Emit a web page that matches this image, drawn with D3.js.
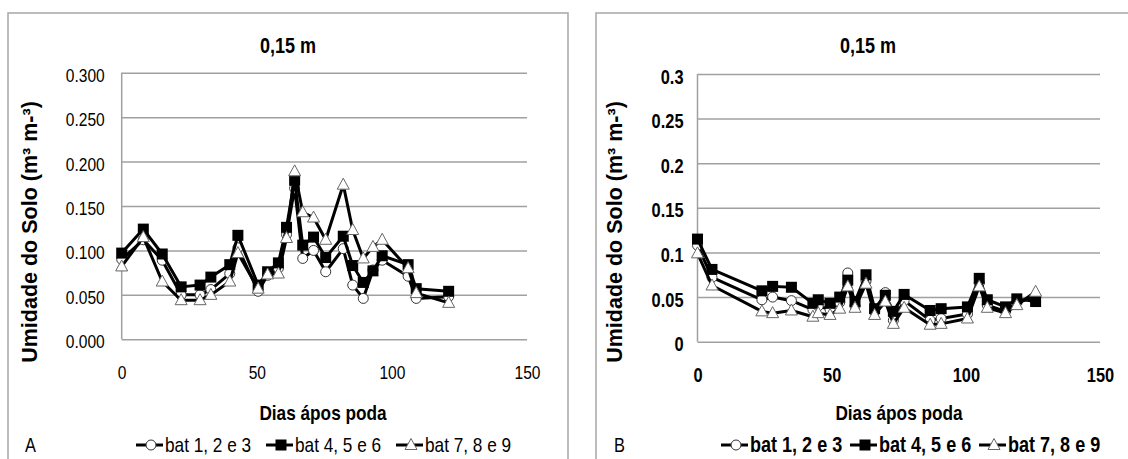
<!DOCTYPE html>
<html>
<head>
<meta charset="utf-8">
<script src="https://cdn.jsdelivr.net/npm/d3@7"></script>
<style>
  body { margin: 0; background: #fff; }
  svg { display: block; font-family: "Liberation Sans", Arial, sans-serif; }
</style>
</head>
<body>
<svg id="chart" width="1128" height="459"></svg>
<script>
// panel A
var daysA = [0, 8, 15, 22, 29, 33, 40, 43, 50.5, 54, 58, 61, 64, 67, 71, 75.5, 82, 85.5, 89.4, 93, 96.4, 106, 109, 121];
var bat123A = [0.090, 0.112, 0.089, 0.050, 0.050, 0.056, 0.074, 0.103, 0.054, 0.072, 0.080, 0.118, 0.170, 0.091, 0.100, 0.076, 0.102, 0.061, 0.046, 0.078, 0.089, 0.071, 0.046, 0.048];
var bat456A = [0.097, 0.124, 0.096, 0.059, 0.061, 0.070, 0.084, 0.117, 0.061, 0.076, 0.086, 0.126, 0.179, 0.106, 0.115, 0.092, 0.116, 0.083, 0.064, 0.077, 0.094, 0.084, 0.057, 0.054];
var bat789A = [0.082, 0.115, 0.065, 0.044, 0.044, 0.050, 0.065, 0.097, 0.057, 0.073, 0.074, 0.114, 0.189, 0.143, 0.137, 0.112, 0.174, 0.123, 0.091, 0.104, 0.112, 0.080, 0.052, 0.041];

// panel B
var daysB = [0, 5.4, 24, 28, 35, 43, 45, 49.4, 53, 56, 58.7, 62.8, 66, 70, 73, 77, 86.7, 90.8, 100.6, 105, 108, 114.8, 119, 126];
var bat123B = [0.108, 0.072, 0.047, 0.050, 0.046, 0.036, 0.040, 0.036, 0.044, 0.077, 0.040, 0.068, 0.034, 0.055, 0.024, 0.046, 0.024, 0.026, 0.031, 0.066, 0.041, 0.034, 0.044, 0.050];
var bat456B = [0.115, 0.081, 0.057, 0.062, 0.061, 0.043, 0.047, 0.043, 0.050, 0.069, 0.045, 0.075, 0.037, 0.052, 0.034, 0.053, 0.035, 0.037, 0.039, 0.071, 0.047, 0.039, 0.048, 0.045];
var bat789B = [0.099, 0.063, 0.034, 0.032, 0.035, 0.028, 0.032, 0.030, 0.037, 0.062, 0.038, 0.065, 0.030, 0.045, 0.020, 0.038, 0.019, 0.020, 0.026, 0.062, 0.038, 0.032, 0.041, 0.056];

var seriesNames = ["bat 1, 2 e 3", "bat 4, 5 e 6", "bat 7, 8 e 9"];
var seriesMarkers = ["circle", "square", "triangle"];
var yTickValues = [0, 0.05, 0.1, 0.15, 0.2, 0.25, 0.3];
var xTickValues = [0, 50, 100, 150];
var panelTitle = "0,15 m";
var xTitle = "Dias ápos poda";
var yTitle = "Umidade do Solo (m³ m-³)";

var svg = d3.select("#chart");
var SX = 0.82; // squeeze to look like Arial Narrow

// panel frames
svg.append("rect").attr("x", 8).attr("y", 13).attr("width", 560).attr("height", 470)
  .attr("fill", "none").attr("stroke", "#a6a6a6").attr("stroke-width", 1.5);
svg.append("rect").attr("x", 596).attr("y", 13).attr("width", 560).attr("height", 470)
  .attr("fill", "none").attr("stroke", "#a6a6a6").attr("stroke-width", 1.5);

function narrowText(x, y, str, size, weight, anchor) {
  return svg.append("text")
    .attr("transform", "translate(" + x + "," + y + ") scale(" + SX + ",1)")
    .attr("text-anchor", anchor || "start")
    .attr("font-size", size).attr("font-weight", weight || "normal")
    .attr("fill", "#000").text(str);
}

function drawMarker(g, type, x, y) {
  if (type === "square") {
    g.append("rect").attr("x", x - 5.5).attr("y", y - 5.5).attr("width", 11).attr("height", 11)
      .attr("fill", "#000");
  } else if (type === "circle") {
    g.append("circle").attr("cx", x).attr("cy", y).attr("r", 5)
      .attr("fill", "#fff").attr("stroke", "#333").attr("stroke-width", 1);
  } else {
    g.append("path").attr("d", "M" + x + "," + (y - 6.5) + "L" + (x + 6) + "," + (y + 4.5) + "L" + (x - 6) + "," + (y + 4.5) + "Z")
      .attr("fill", "#fff").attr("stroke", "#666").attr("stroke-width", 1);
  }
}

function drawPanel(p) {
  var x = d3.scaleLinear().domain([0, 150]).range([p.left, p.right]);
  var y = d3.scaleLinear().domain([0, 0.3]).range([p.bottom, p.top]);
  var weight = p.bold ? "bold" : "normal";

  // grid + y ticks
  var yAxis = svg.append("g").attr("transform", "translate(" + p.left + ",0)")
    .call(d3.axisLeft(y).tickValues(yTickValues).tickFormat(p.yFormat)
      .tickSize(-(p.right - p.left)).tickPadding(p.yPad));
  yAxis.select(".domain").remove();
  yAxis.selectAll("line").attr("stroke", "#a0a0a0").attr("stroke-width", 1.5);
  yAxis.selectAll("text").attr("font-size", p.tickSize).attr("font-weight", weight).attr("fill", "#000")
    .attr("font-family", "Liberation Sans, Arial, sans-serif")
    .attr("x", -p.yPad / SX).attr("dy", "0.45em").attr("transform", "scale(" + SX + ",1)");

  svg.append("line").attr("x1", p.left).attr("x2", p.left).attr("y1", p.top).attr("y2", p.bottom)
    .attr("stroke", "#a0a0a0").attr("stroke-width", 1.5);

  // x ticks
  var xAxis = svg.append("g").attr("transform", "translate(0," + p.bottom + ")")
    .call(d3.axisBottom(x).tickValues(xTickValues).tickSize(0).tickPadding(p.xPad));
  xAxis.select(".domain").remove();
  xAxis.selectAll("text").attr("font-size", p.tickSize).attr("font-weight", weight).attr("fill", "#000")
    .attr("font-family", "Liberation Sans, Arial, sans-serif")
    .attr("transform", "scale(" + SX + ",1)");

  // titles
  narrowText(p.titleX, 53, panelTitle, 22, "bold", "middle");
  narrowText(p.xTitleX, 420, xTitle, 21, "bold", "middle");
  svg.append("text").attr("transform", "translate(" + p.yTitleX + ",232) rotate(-90)")
    .attr("text-anchor", "middle").attr("dy", "0.35em")
    .attr("font-size", 21.5).attr("font-weight", "bold").text(yTitle);
  narrowText(p.letterX, 452, p.letter, 20, "normal");

  // series
  var line = d3.line().x(function(d) { return x(d[0]); }).y(function(d) { return y(d[1]); });
  p.series.forEach(function(values, i) {
    var pts = p.days.map(function(d, j) { return [d, values[j]]; });
    var g = svg.append("g");
    g.append("path").attr("d", line(pts)).attr("fill", "none")
      .attr("stroke", "#000").attr("stroke-width", 3).attr("stroke-linejoin", "round");
    pts.forEach(function(d) { drawMarker(g, seriesMarkers[i], x(d[0]), y(d[1])); });
  });

  // legend
  p.legendX.forEach(function(lx, i) {
    var g = svg.append("g");
    g.append("line").attr("x1", lx).attr("x2", lx + 27).attr("y1", 445).attr("y2", 445)
      .attr("stroke", "#000").attr("stroke-width", 3);
    drawMarker(g, seriesMarkers[i], lx + 15, 445);
    narrowText(lx + 29, 452, seriesNames[i], p.legendSize, weight);
  });
}

drawPanel({
  left: 121.7, right: 527, top: 72.7, bottom: 339.3,
  days: daysA, series: [bat123A, bat456A, bat789A],
  bold: false, yFormat: d3.format(".3f"), yPad: 17, xPad: 26, tickSize: 19, legendSize: 21,
  titleX: 288, xTitleX: 323, yTitleX: 29, letter: "A", letterX: 25,
  legendX: [136, 266, 396]
});

drawPanel({
  left: 697.5, right: 1100, top: 74, bottom: 341.7,
  days: daysB, series: [bat123B, bat456B, bat789B],
  bold: true, yFormat: function(d) { return String(d); }, yPad: 14, xPad: 26, tickSize: 20, legendSize: 22,
  titleX: 868, xTitleX: 899, yTitleX: 614, letter: "B", letterX: 614,
  legendX: [721, 850, 979]
});
</script>
</body>
</html>
